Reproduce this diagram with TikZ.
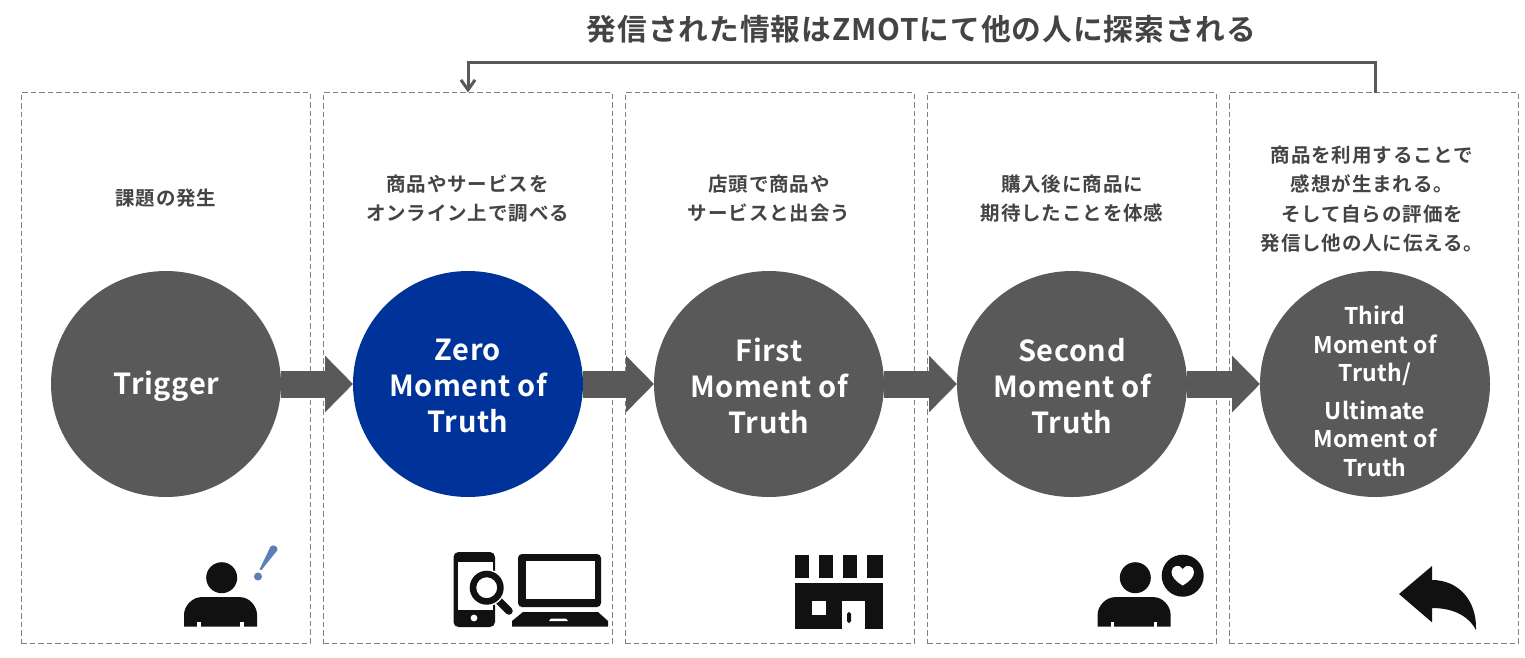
\documentclass[tikz,border=0pt]{standalone}
\usepackage{fontspec}
\setmainfont{Noto Sans CJK JP}
\newfontfamily\jpbody[LetterSpace=4.5]{Noto Sans CJK JP Bold}
\newfontfamily\jptitle[LetterSpace=3.2]{Noto Sans CJK JP Bold}
\newfontfamily\jpcircle[LetterSpace=2]{Noto Sans CJK JP Bold}
\newfontfamily\jpsmall[LetterSpace=1]{Noto Sans CJK JP Bold}
\usetikzlibrary{arrows.meta,shapes.geometric}
\definecolor{gy}{HTML}{595959}
\definecolor{txt}{HTML}{444444}
\definecolor{ink}{HTML}{111111}
\definecolor{nav}{HTML}{003399}
\definecolor{bang}{HTML}{5B7FB8}
\tikzset{
  panel/.style={draw=black!50,line width=0.9pt,dash pattern=on 5.5pt off 3pt,minimum width=289pt,minimum height=550.5pt,inner sep=0pt,outer sep=0pt,anchor=north west},
  disc/.style={ellipse,fill=gy,minimum width=230pt,minimum height=226pt,inner sep=0pt,outer sep=0pt},
  disctext/.style={text=white,align=center,inner sep=0pt,font=\jpcircle\fontsize{29}{36}\selectfont},
  smalltext/.style={text=white,align=center,inner sep=0pt,font=\jpsmall\fontsize{23}{28.5}\selectfont},
  note/.style={text=txt,align=center,inner sep=0pt,font=\jpbody\fontsize{19.5}{29.3}\selectfont},
  flow/.style={line width=27pt,draw=gy,-{Triangle[length=28pt,width=55pt,fill=gy]}},
  back/.style={line width=3pt,draw=gy,-{Straight Barb[length=10pt,width=14pt,line width=3pt]}},
  person/.pic={
    \fill[ink] (0,0) circle (15.5);
    \fill[ink] (-37.7,49) -- (-37.7,37) .. controls (-37.7,28) and (-29,19.5) .. (-21,19.5) -- (19,19.5) .. controls (27,19.5) and (35.3,28) .. (35.3,37) -- (35.3,49) -- cycle;
    \fill[white] (-24.5,44.5) rectangle (-21,49.5);
    \fill[white] (18.5,44.5) rectangle (22,49.5);
  }
}
\begin{document}
\begin{tikzpicture}[x=1pt,y=-1pt]
\useasboundingbox (0,0) rectangle (1525,657);
\fill[white] (0,0) rectangle (1525,657);
% panels
\node[panel] (b1) at (21,92.5) {};
\node[panel] (b2) at (323,92.5) {};
\node[panel] (b3) at (625,92.5) {};
\node[panel] (b4) at (927,92.5) {};
\node[panel] (b5) at (1229,92.5) {};
% discs
\node[disc] (c1) at (166,384) {};
\node[disc,fill=nav] (c2) at (468,384) {};
\node[disc] (c3) at (769,384) {};
\node[disc] (c4) at (1072,384) {};
\node[disc] (c5) at (1375,384) {};
\node[disctext] (t1) at (166.5,386) {Trigger};
\node[disctext] (t2) at (468,386) {Zero\\Moment of\\Truth};
\node[disctext] (t3) at (769,386) {First\\Moment of\\Truth};
\node[disctext] (t4) at (1072,386) {Second\\Moment of\\Truth};
\node[smalltext] (t5) at (1375,391.5) {Third\\Moment of\\Truth/\\[9pt]Ultimate\\Moment of\\Truth};
% flows
\draw[flow] (c1) -- (c2);
\draw[flow] (c2) -- (c3);
\draw[flow] (c3) -- (c4);
\draw[flow] (c4) -- (c5);
% notes
\node[note] (n1) at (166,198.5) {課題の発生};
\node[note] (n2) at (467.5,198.5) {商品やサービスを\\オンライン上で調べる};
\node[note] (n3) at (769,198.5) {店頭で商品や\\サービスと出会う};
\node[note] (n4) at (1072,198.5) {購入後に商品に\\期待したことを体感};
\node[note] (n5) at (1372,199) {商品を利用することで\\感想が生まれる。\\そして自らの評価を\\発信し他の人に伝える。};
% title
\node[text=txt,inner sep=0pt,font=\jptitle\fontsize{29.7}{32}\selectfont] (title) at (921.5,29) {発信された情報はZMOTにて他の人に探索される};
% feedback
\coordinate (rail) at (0,62);
\draw[back] (b5.north -| c5.center) -- (rail -| c5.center) -- (rail -| c2.center) -- (b2.north -| c2.center);
% icon: person with bang
\pic at (221.7,577.7) {person};
\fill[bang] (270.5,546.5) .. controls (273,544) and (278,546) .. (277.5,550) -- (261.5,570) -- (259.5,569.5) -- cycle;
\fill[bang] (258,576.5) circle (4);
% icon: phone
\fill[ink,rounded corners=5pt] (453.5,552) rectangle (495,627);
\fill[white] (458,562) rectangle (493,610);
\fill[white] (474,618) circle (3.4);
\draw[white,line width=12pt,line cap=round] (494,595) -- (509,611);
\draw[ink,line width=7.5pt,line cap=round] (497,599) -- (509,611);
\fill[white] (486.7,587.7) circle (18.5);
\fill[ink,even odd rule] (486.7,587.7) circle (17) (486.7,587.7) circle (10.5);
% icon: laptop
\fill[ink,rounded corners=4pt] (518,554) rectangle (601,607);
\fill[white] (526,560.5) rectangle (594.5,599);
\fill[ink] (523,612) -- (598,612) -- (608,621) -- (608,626.5) -- (512,626.5) -- (512,621) -- cycle;
\fill[white] (551,618.5) -- (566,618.5) -- (568,621) -- (549,621) -- cycle;
% icon: store
\fill[ink] (795,555) rectangle (809,577.7);
\fill[ink] (819,555) rectangle (833,577.7);
\fill[ink] (843,555) rectangle (857,577.7);
\fill[ink] (867,555) rectangle (883,577.7);
\fill[ink] (795,583) rectangle (883,629);
\fill[white] (811.5,601) rectangle (825.5,615);
\fill[white] (842,601) rectangle (865,629.5);
\fill[ink,rounded corners=1.8pt] (847,612) rectangle (851,623);
% icon: person with heart
\pic at (1135.3,577.7) {person};
\fill[ink] (1182.7,575.7) circle (21);
\fill[white] (1182.7,585.5) .. controls (1176,581.5) and (1171.5,577) .. (1171.5,572) .. controls (1171.5,565.5) and (1179.5,563.5) .. (1182.7,569) .. controls (1186,563.5) and (1194,565.5) .. (1194,572) .. controls (1194,577) and (1189.5,581.5) .. (1182.7,585.5) -- cycle;
% icon: reply arrow
\fill[ink] (1399,594) -- (1432,566) -- (1432,580) .. controls (1458,580) and (1477,600) .. (1476,630) .. controls (1468,615) and (1452,608) .. (1432,608) -- (1432,622.3) -- cycle;
\end{tikzpicture}
\end{document}
